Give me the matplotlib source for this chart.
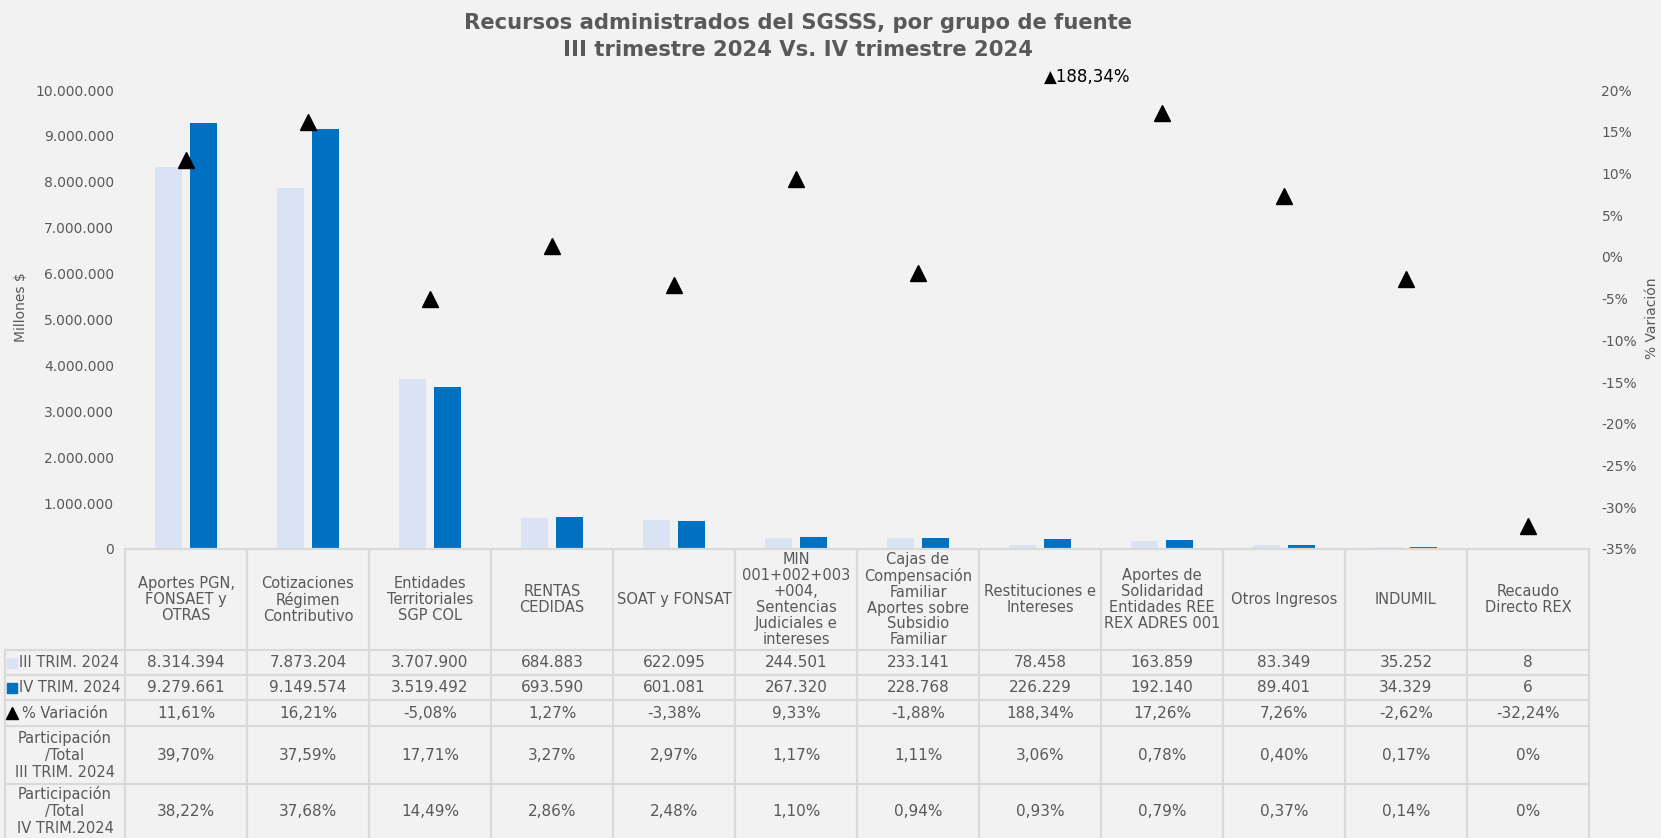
import matplotlib.pyplot as plt
import matplotlib.transforms as mtransforms
import numpy as np

# data
categorias = [
    "Aportes PGN,\nFONSAET y\nOTRAS",
    "Cotizaciones\nRégimen\nContributivo",
    "Entidades\nTerritoriales\nSGP COL",
    "RENTAS\nCEDIDAS",
    "SOAT y FONSAT",
    "MIN\n001+002+003\n+004,\nSentencias\nJudiciales e\nintereses",
    "Cajas de\nCompensación\nFamiliar\nAportes sobre\nSubsidio\nFamiliar",
    "Restituciones e\nIntereses",
    "Aportes de\nSolidaridad\nEntidades REE\nREX ADRES 001",
    "Otros Ingresos",
    "INDUMIL",
    "Recaudo\nDirecto REX",
]
iii_trim = [8314394, 7873204, 3707900, 684883, 622095, 244501, 233141, 78458, 163859, 83349, 35252, 8]
iv_trim = [9279661, 9149574, 3519492, 693590, 601081, 267320, 228768, 226229, 192140, 89401, 34329, 6]
variacion = [11.61, 16.21, -5.08, 1.27, -3.38, 9.33, -1.88, 188.34, 17.26, 7.26, -2.62, -32.24]
part_iii = ["39,70%", "37,59%", "17,71%", "3,27%", "2,97%", "1,17%", "1,11%", "3,06%", "0,78%", "0,40%", "0,17%", "0%"]
part_iv = ["38,22%", "37,68%", "14,49%", "2,86%", "2,48%", "1,10%", "0,94%", "0,93%", "0,79%", "0,37%", "0,14%", "0%"]
left_ticks = list(range(0, 10000001, 1000000))
right_ticks = list(range(-35, 21, 5))

BG = "#F2F2F2"
C_III = "#DAE3F3"
C_IV = "#0070C0"
GRAY = "#595959"
GRID = "#D9D9D9"

plt.rcParams['font.family'] = ['DejaVu Sans']

W, H = 1661, 838
fig = plt.figure(figsize=(W / 100, H / 100), dpi=100, facecolor=BG)

x0, x1 = 125, 1589       # plot area in pixels
ytop, ybot = 90, 549
ax = fig.add_axes([x0 / W, 1 - ybot / H, (x1 - x0) / W, (ybot - ytop) / H])
ax.set_facecolor(BG)

x = np.arange(len(categorias))
bw = 0.217
ax.bar(x - 0.143, iii_trim, bw, color=C_III, zorder=2)
ax.bar(x + 0.143, iv_trim, bw, color=C_IV, zorder=2)
ax.set_xlim(-0.5, len(categorias) - 0.5)
ax.set_ylim(0, 10000000)
ax.set_yticks(left_ticks)
ax.set_yticklabels([f"{v:,}".replace(",", ".") for v in left_ticks])
ax.set_xticks([])
ax.tick_params(axis='y', length=0, pad=8, labelsize=10, labelcolor=GRAY)
for s in ax.spines.values():
    s.set_visible(False)

ax2 = ax.twinx()
ax2.plot(x, variacion, linestyle='none', marker='^', markersize=12, color='black', zorder=3)
ax2.set_ylim(-35, 20)
ax2.set_yticks(right_ticks)
ax2.set_yticklabels([f"{v}%" for v in right_ticks])
ax2.tick_params(axis='y', length=0, pad=9, labelsize=10, labelcolor=GRAY)
for s in ax2.spines.values():
    s.set_visible(False)

# label for the off-scale point
out_idx = int(np.argmax(variacion))
trans = mtransforms.blended_transform_factory(ax2.transData, ax2.transAxes)
ax2.text(out_idx + 0.03, 1.028, "▲" + f"{variacion[out_idx]:.2f}%".replace(".", ","),
         transform=trans, ha='left', va='center', fontsize=12, color='black', clip_on=False)

fig.text(21 / W, 1 - 307 / H, "Millones $", rotation=90, ha='center', va='center', fontsize=10, color=GRAY)
fig.text(1652 / W, 1 - 318 / H, "% Variación", rotation=90, ha='center', va='center', fontsize=10, color=GRAY)

fig.text(798 / W, 1 - 23 / H, "Recursos administrados del SGSSS, por grupo de fuente",
         ha='center', va='center', fontsize=15.2, fontweight='bold', color=GRAY)
fig.text(798 / W, 1 - 50 / H, "III trimestre 2024 Vs. IV trimestre 2024",
         ha='center', va='center', fontsize=15.2, fontweight='bold', color=GRAY)

# data table under the chart, columns aligned with the categories
tax = fig.add_axes([x0 / W, 0, (x1 - x0) / W, 1 - ybot / H])
tax.set_xlim(-0.5, len(categorias) - 0.5)
tax.set_ylim(H, ybot)
tax.axis('off')

rows = [ybot, 650, 675, 700, 726, 784, H]
px = (x1 - x0) / len(categorias)
xl = -0.5 - (x0 - 5) / px    # left edge of the row label column
lw = 1.6

for i in range(len(categorias) + 1):
    tax.plot([i - 0.5, i - 0.5], [rows[0], rows[-1]], color=GRID, lw=lw, clip_on=False)
tax.plot([xl, xl], [rows[1], rows[-1]], color=GRID, lw=lw, clip_on=False)
tax.plot([-0.5, len(categorias) - 0.5], [rows[0], rows[0]], color=GRID, lw=lw, clip_on=False)
for r in rows[1:-1]:
    tax.plot([xl, len(categorias) - 0.5], [r, r], color=GRID, lw=lw, clip_on=False)

for i, c in enumerate(categorias):
    tax.text(i, (rows[0] + rows[1]) / 2, c, ha='center', va='center', fontsize=10.5,
             color=GRAY, linespacing=1.08)

table_rows = [
    [f"{v:,}".replace(",", ".") for v in iii_trim],
    [f"{v:,}".replace(",", ".") for v in iv_trim],
    [f"{v:.2f}%".replace(".", ",") for v in variacion],
    part_iii,
    part_iv,
]
for r, vals in enumerate(table_rows):
    yc = (rows[r + 1] + rows[r + 2]) / 2
    for i, v in enumerate(vals):
        tax.text(i, yc, v, ha='center', va='center', fontsize=11, color=GRAY)

# row labels with legend keys
key_x = xl + 7 / px
txt_x = xl + 14 / px
yc = [(rows[k] + rows[k + 1]) / 2 for k in range(1, 6)]
tax.plot([key_x], [yc[0]], marker='s', markersize=6.5, color=C_III, clip_on=False)
tax.text(txt_x, yc[0], "III TRIM. 2024", ha='left', va='center', fontsize=10.5, color=GRAY)
tax.plot([key_x], [yc[1]], marker='s', markersize=6.5, color=C_IV, clip_on=False)
tax.text(txt_x, yc[1], "IV TRIM. 2024", ha='left', va='center', fontsize=10.5, color=GRAY)
tax.plot([key_x], [yc[2]], marker='^', markersize=8, color='black', clip_on=False)
tax.text(txt_x + 3 / px, yc[2], "% Variación", ha='left', va='center', fontsize=10.5, color=GRAY)
lab_x = (xl + (-0.5)) / 2
tax.text(lab_x, yc[3], "Participación\n/Total\nIII TRIM. 2024", ha='center', va='center',
         fontsize=10.5, color=GRAY, linespacing=1.15)
tax.text(lab_x, yc[4], "Participación\n/Total\nIV TRIM.2024", ha='center', va='center',
         fontsize=10.5, color=GRAY, linespacing=1.15)

fig.savefig("out.png", dpi=100, facecolor=BG)
